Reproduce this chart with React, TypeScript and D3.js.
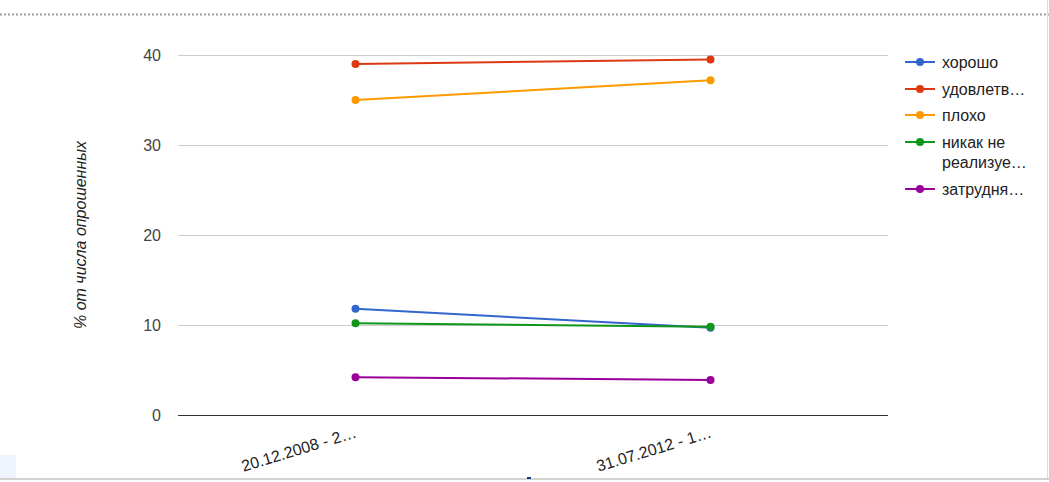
import { useEffect, useRef } from "react";
import * as d3 from "d3";

const categories = ["20.12.2008 - 2…", "31.07.2012 - 1…"];
const seriesNames = ["хорошо", "удовлетв…", "плохо", "никак не реализуе…", "затрудня…"];
const seriesColors = ["#3366cc", "#dc3912", "#ff9900", "#109618", "#990099"];
const goodValues = [11.8, 9.7];
const satisfactoryValues = [39.0, 39.5];
const badValues = [35.0, 37.2];
const notRealizedValues = [10.2, 9.8];
const hardToSayValues = [4.2, 3.9];
const yTicks = [0, 10, 20, 30, 40];
const yTitle = "% от числа опрошенных";

const W = 1049;
const H = 482;

export default function App() {
  const svgRef = useRef<SVGSVGElement>(null);

  useEffect(() => {
    document.body.style.margin = "0";
    if (!svgRef.current) return;
    const svg = d3.select(svgRef.current);
    svg.selectAll("*").remove();

    const font = "Arial, 'Liberation Sans', sans-serif";
    const margin = { top: 55, right: 161, bottom: 67, left: 178 };
    const series = [goodValues, satisfactoryValues, badValues, notRealizedValues, hardToSayValues];

    const x = d3.scaleBand().domain(categories).range([margin.left, W - margin.right]);
    const y = d3.scaleLinear().domain([0, 40]).range([H - margin.bottom, margin.top]);

    // frame bits
    svg.append("line")
      .attr("x1", 0).attr("x2", W).attr("y1", 14.5).attr("y2", 14.5)
      .attr("stroke", "#a0a0a0").attr("stroke-width", 2).attr("stroke-dasharray", "2,2");
    svg.append("rect").attr("x", 0).attr("y", 455).attr("width", 16).attr("height", 23).attr("fill", "#eef4fc");
    svg.append("line")
      .attr("x1", 0).attr("x2", W).attr("y1", 479).attr("y2", 479)
      .attr("stroke", "#d4d2cc").attr("stroke-width", 2);
    svg.append("line")
      .attr("x1", 1047.5).attr("x2", 1047.5).attr("y1", 0).attr("y2", 478)
      .attr("stroke", "#dddddd").attr("stroke-width", 1);
    svg.append("rect").attr("x", 527).attr("y", 477).attr("width", 4).attr("height", 2).attr("fill", "#1a3a8a");

    // grid
    svg.selectAll(".grid")
      .data(yTicks.filter(t => t !== 0))
      .join("line")
      .attr("x1", margin.left).attr("x2", W - margin.right)
      .attr("y1", d => Math.round(y(d)) + 0.5).attr("y2", d => Math.round(y(d)) + 0.5)
      .attr("stroke", "#cccccc").attr("stroke-width", 1);

    svg.selectAll(".ytick")
      .data(yTicks)
      .join("text")
      .attr("x", 161)
      .attr("y", d => y(d) + 6)
      .attr("text-anchor", "end")
      .attr("font-family", font)
      .attr("font-size", 16)
      .attr("fill", "#444444")
      .text(d => d);

    svg.append("line")
      .attr("x1", margin.left).attr("x2", W - margin.right)
      .attr("y1", y(0) + 0.5).attr("y2", y(0) + 0.5)
      .attr("stroke", "#333333").attr("stroke-width", 1);

    svg.append("text")
      .attr("transform", `translate(86,235) rotate(-90)`)
      .attr("text-anchor", "middle")
      .attr("font-family", font)
      .attr("font-size", 16)
      .attr("font-style", "italic")
      .attr("fill", "#222222")
      .text(yTitle);

    // x labels
    svg.selectAll(".xlab")
      .data(categories)
      .join("text")
      .attr("transform", d => `translate(${x(d)! + x.bandwidth() / 2 + 2},${y(0) + 22}) rotate(-17)`)
      .attr("text-anchor", "end")
      .attr("font-family", font)
      .attr("font-size", 16)
      .attr("fill", "#222222")
      .text(d => d);

    const line = d3.line<number>()
      .x((_, i) => x(categories[i])! + x.bandwidth() / 2)
      .y(d => y(d));

    series.forEach((vals, si) => {
      const g = svg.append("g");
      g.append("path")
        .attr("d", line(vals))
        .attr("fill", "none")
        .attr("stroke", seriesColors[si])
        .attr("stroke-width", 2);
      g.selectAll("circle")
        .data(vals)
        .join("circle")
        .attr("cx", (_, i) => x(categories[i])! + x.bandwidth() / 2)
        .attr("cy", d => y(d))
        .attr("r", 4)
        .attr("fill", seriesColors[si]);
    });

    // legend
    const legendRows = [62, 89, 115, 142, 189];
    seriesNames.forEach((name, i) => {
      const ly = legendRows[i];
      svg.append("line")
        .attr("x1", 905).attr("x2", 935).attr("y1", ly).attr("y2", ly)
        .attr("stroke", seriesColors[i]).attr("stroke-width", 2);
      svg.append("circle").attr("cx", 920).attr("cy", ly).attr("r", 4).attr("fill", seriesColors[i]);
      const words = name === "никак не реализуе…" ? ["никак не", "реализуе…"] : [name];
      words.forEach((w, k) => {
        svg.append("text")
          .attr("x", 942)
          .attr("y", ly + 6 + k * 20)
          .attr("font-family", font)
          .attr("font-size", 16)
          .attr("fill", "#222222")
          .text(w);
      });
    });
  }, []);

  return <svg ref={svgRef} width={W} height={H} style={{ display: "block", background: "#ffffff" }} />;
}
